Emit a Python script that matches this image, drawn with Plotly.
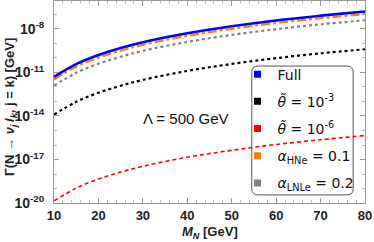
import plotly.graph_objects as go

M_N = [10, 15, 20, 25, 30, 40, 50, 60, 70, 80]
full = [5.0e-12, 3.8e-11, 1.6e-10, 4.9e-10, 1.23e-9, 5.1e-9, 1.55e-8, 3.9e-8, 8.3e-8, 1.62e-7]
theta_1e3 = [1.25e-14, 9.5e-14, 4.0e-13, 1.22e-12, 3.1e-12, 1.28e-11, 3.9e-11, 9.7e-11, 2.1e-10, 4.0e-10]
theta_1e6 = [1.4e-20, 1.06e-19, 4.5e-19, 1.37e-18, 3.4e-18, 1.43e-17, 4.3e-17, 1.09e-16, 2.3e-16, 4.5e-16]
alpha_hne = [3.3e-12, 2.5e-11, 1.06e-10, 3.2e-10, 8.1e-10, 3.4e-9, 1.02e-8, 2.6e-8, 5.5e-8, 1.07e-7]
alpha_lnle = [1.25e-12, 9.5e-12, 4.0e-11, 1.22e-10, 3.1e-10, 1.28e-9, 3.9e-9, 9.7e-9, 2.1e-8, 4.0e-8]

x_ticks = [10, 20, 30, 40, 50, 60, 70, 80]
y_tickvals = [1e-20, 1e-17, 1e-14, 1e-11, 1e-8]
y_ticktext = ["10<sup>-20</sup>", "10<sup>-17</sup>", "10<sup>-14</sup>", "10<sup>-11</sup>", "10<sup>-8</sup>"]
y_minor = [10.0 ** e for e in range(-20, -5) if e not in (-20, -17, -14, -11, -8)]

names = ["Full", "<i>θ̃</i> = 10<sup>-3</sup>", "<i>θ̃</i> = 10<sup>-6</sup>",
         "<i>α</i><sub>HNe</sub> = 0.1", "<i>α</i><sub>LNLe</sub> = 0.2"]
colors = ["#0000ff", "#000000", "#ff0000", "#ff8000", "#808080"]

fig = go.Figure()
series = [
    (alpha_hne, "#ff8000", "dashdot", 2.2),
    (alpha_lnle, "#808080", "dot", 2.2),
    (theta_1e3, "#000000", "dot", 2.2),
    (theta_1e6, "#ff0000", "4px,3px", 1.6),
    (full, "#0000ff", "solid", 2.6),
]
for ys, c, d, w in series:
    fig.add_trace(go.Scatter(x=M_N, y=ys, mode="lines", line=dict(color=c, dash=d, width=w, shape="spline"),
                             showlegend=False, hoverinfo="skip"))

for i, (n, c) in enumerate(zip(names, colors)):
    fig.add_trace(go.Scatter(x=[None], y=[None], mode="markers", name=n,
                             marker=dict(symbol="square", size=7, color=c),
                             legendgroup=f"g{i}", showlegend=True))

fnt = "DejaVu Sans, Liberation Sans, Arial"
fig.update_layout(
    width=374, height=242,
    margin=dict(l=54, r=9, t=1, b=39),
    plot_bgcolor="white", paper_bgcolor="white",
    showlegend=True,
    legend=dict(x=0.59, y=0.715, xanchor="left", yanchor="top",
                bgcolor="rgba(0,0,0,0)", borderwidth=0,
                font=dict(family=fnt, size=14, color="#111"),
                tracegroupgap=6, itemwidth=30),
    xaxis=dict(range=[10, 80], tickvals=x_ticks, showgrid=False, zeroline=False,
               showline=True, linecolor="#999", linewidth=1, mirror="ticks",
               ticks="inside", ticklen=5, tickcolor="#999",
               minor=dict(ticks="inside", ticklen=3, dtick=2, tickcolor="#bbb"),
               tickfont=dict(family="Liberation Sans, Arial", size=13, color="#222", weight="bold")),
    yaxis=dict(type="log", range=[-20, -6.07], tickvals=y_tickvals, ticktext=y_ticktext,
               showgrid=False, zeroline=False, showline=True, linecolor="#999", linewidth=1,
               mirror="ticks", ticks="inside", ticklen=5, tickcolor="#999",
               minor=dict(ticks="inside", ticklen=3, tickvals=y_minor, tickcolor="#bbb"),
               ticklabelstandoff=6,
               tickfont=dict(family="Liberation Sans, Arial", size=14, color="#222", weight="bold")),
)

# rounded legend frame
x0, x1, y0, y1, r = 0.636, 0.962, 0.040, 0.678, 0.02
ry = r * 311 / 202
path = (f"M {x0+r},{y1} L {x1-r},{y1} Q {x1},{y1} {x1},{y1-ry} L {x1},{y0+ry} Q {x1},{y0} {x1-r},{y0} "
        f"L {x0+r},{y0} Q {x0},{y0} {x0},{y0+ry} L {x0},{y1-ry} Q {x0},{y1} {x0+r},{y1} Z")
fig.add_shape(type="path", path=path, xref="paper", yref="paper",
              line=dict(color="#555", width=1), fillcolor="rgba(255,255,255,0.9)", layer="below")

fig.add_annotation(text="Λ = 500 GeV", x=0.425, y=0.42, xref="paper", yref="paper",
                   showarrow=False, font=dict(family="Liberation Sans, Arial", size=15, color="#111"))
fig.add_annotation(text="<b>Γ(N → <i>ν</i><sub><i>j</i></sub>\u2009<i>l</i><sub><i>k</i></sub>, j = k) [GeV]</b>",
                   x=-(54 - 10) / 311, y=0.475, xref="paper", yref="paper", textangle=-90,
                   showarrow=False, xanchor="center", yanchor="middle",
                   font=dict(family="Liberation Sans, Arial", size=13, color="#222"))
fig.add_annotation(text="<b><i>M</i><sub><i>N</i></sub> [GeV]</b>",
                   x=0.5, y=-(233 - 203) / 202, xref="paper", yref="paper",
                   showarrow=False, xanchor="center", yanchor="middle",
                   font=dict(family="Liberation Sans, Arial", size=13, color="#222"))

fig.write_html("out.html", config={"displayModeBar": False},
               post_script="document.body.style.margin='0';document.body.style.padding='0';")
